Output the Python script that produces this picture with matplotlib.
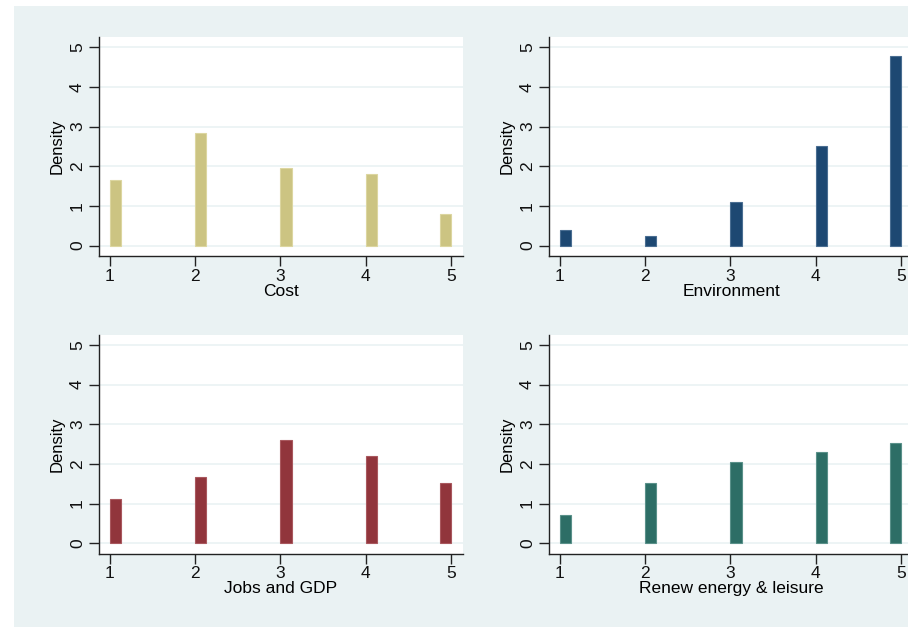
import matplotlib.pyplot as plt
from matplotlib.patches import Rectangle

plt.rcParams['font.family'] = ['Liberation Sans', 'DejaVu Sans']

# histogram bars (left edge of each bin, density height)
bin_left = [1, 2, 3, 4, 4.87]
bin_width = 0.13

cost = [1.66, 2.83, 1.96, 1.81, 0.79]
environment = [0.40, 0.24, 1.10, 2.52, 4.79]
jobs_gdp = [1.11, 1.66, 2.60, 2.21, 1.51]
renew = [0.72, 1.51, 2.06, 2.29, 2.52]

panels = [
    ("Cost", cost, "#CCC482", "#DCD6A0"),
    ("Environment", environment, "#1D4872", "#4A6E92"),
    ("Jobs and GDP", jobs_gdp, "#91353C", "#A9585E"),
    ("Renew energy & leisure", renew, "#2D6E66", "#5A918A"),
]

bg = "#EAF2F3"
fig = plt.figure(figsize=(9.08, 6.28), dpi=100)
fig.patch.set_facecolor("white")
fig.patches.append(Rectangle((14 / 908, 1 / 628), 894 / 908, 621 / 628,
                             transform=fig.transFigure, facecolor=bg,
                             edgecolor="none", zorder=-10))

positions = [
    [99 / 908, 0.592, 364 / 908, 0.349],
    [549 / 908, 0.592, 364 / 908, 0.349],
    [99 / 908, 0.118, 364 / 908, 0.349],
    [549 / 908, 0.118, 364 / 908, 0.349],
]

for pos, (name, vals, col, edge) in zip(positions, panels):
    ax = fig.add_axes(pos)
    ax.set_facecolor("white")
    ax.bar(bin_left, vals, width=bin_width, align="edge", color=col,
           edgecolor=edge, linewidth=0.8, zorder=3)
    ax.set_xlim(0.871, 5.141)
    ax.set_ylim(-0.27, 5.26)
    ax.set_xticks([1, 2, 3, 4, 5])
    ax.set_yticks([0, 1, 2, 3, 4, 5])
    ax.grid(axis="y", color=bg, linewidth=1.2, zorder=0)
    for s in ["top", "right"]:
        ax.spines[s].set_visible(False)
    for s in ["left", "bottom"]:
        ax.spines[s].set_color("#222222")
        ax.spines[s].set_linewidth(1.0)
    ax.tick_params(axis="both", direction="out", length=7, width=1.0,
                   color="#222222", labelsize=12.5, labelcolor="#111111")
    ax.tick_params(axis="y", pad=3)
    ax.tick_params(axis="x", pad=2)
    for lab in ax.get_yticklabels():
        lab.set_rotation(90)
        lab.set_va("center")
    ax.set_ylabel("Density", fontsize=12, labelpad=4)
    ax.set_xlabel(name, fontsize=12.5, labelpad=0)

fig.savefig("out.png", dpi=100)
